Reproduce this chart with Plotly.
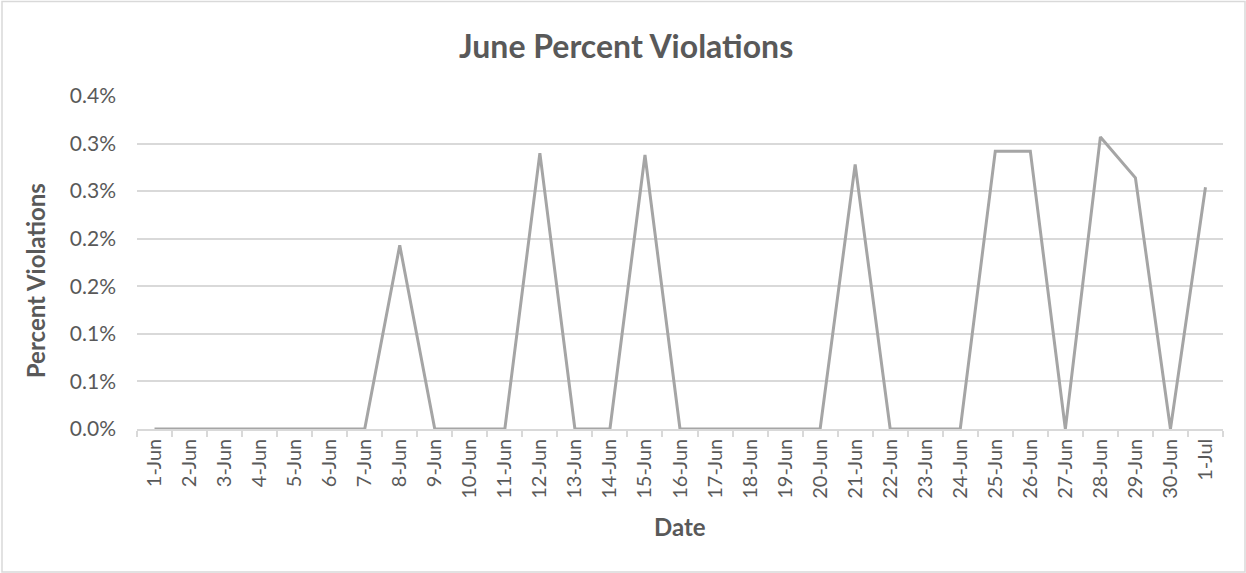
import plotly.graph_objects as go

dates = ["1-Jun", "2-Jun", "3-Jun", "4-Jun", "5-Jun", "6-Jun", "7-Jun", "8-Jun", "9-Jun",
         "10-Jun", "11-Jun", "12-Jun", "13-Jun", "14-Jun", "15-Jun", "16-Jun", "17-Jun",
         "18-Jun", "19-Jun", "20-Jun", "21-Jun", "22-Jun", "23-Jun", "24-Jun", "25-Jun",
         "26-Jun", "27-Jun", "28-Jun", "29-Jun", "30-Jun", "1-Jul"]
percent_violations = [0, 0, 0, 0, 0, 0, 0, 0.00193, 0, 0, 0, 0.00290, 0, 0, 0.00288, 0,
                      0, 0, 0, 0, 0.00278, 0, 0, 0, 0.00292, 0.00292, 0, 0.00307,
                      0.00264, 0, 0.00254]
y_ticks = [0, 0.0005, 0.001, 0.0015, 0.002, 0.0025, 0.003, 0.0035]
y_tick_labels = ["0.0%", "0.1%", "0.1%", "0.2%", "0.2%", "0.3%", "0.3%", "0.4%"]

TXT = "#595959"
GRID = "#d9d9d9"
FONT = "Lato"

fig = go.Figure()
fig.add_trace(go.Scatter(
    x=dates, y=percent_violations, mode="lines",
    line=dict(color="#a5a5a5", width=3), showlegend=False,
))

fig.update_layout(
    width=1246, height=573,
    margin=dict(l=137, r=23, t=96, b=144),
    paper_bgcolor="white", plot_bgcolor="white",
    font=dict(family=FONT, color=TXT),
    xaxis=dict(
        type="category", tickangle=-90, tickson="boundaries",
        ticks="outside", ticklen=6, tickcolor=GRID, tickwidth=1.5,
        showline=True, linecolor=GRID, linewidth=1.5,
        showgrid=False, tickfont=dict(size=20, color=TXT, family=FONT),
        range=[-0.5, len(dates) - 0.5],
    ),
    yaxis=dict(
        range=[0, 0.0035], tickvals=y_ticks, ticktext=y_tick_labels,
        showgrid=True, gridcolor=GRID, gridwidth=1.5,
        zeroline=False, showline=False, ticks="",
        ticklabelstandoff=20,
        tickfont=dict(size=21, color=TXT, family=FONT),
    ),
    annotations=[
        dict(text="<b>June Percent Violations</b>", xref="paper", yref="paper",
             x=0.450, y=1.153, showarrow=False, xanchor="center", yanchor="middle",
             font=dict(size=32, color=TXT, family=FONT)),
        dict(text="<b>Percent Violations</b>", xref="paper", yref="paper",
             x=-0.0939, y=0.444, showarrow=False, textangle=-90,
             xanchor="center", yanchor="middle",
             font=dict(size=24, color=TXT, family=FONT)),
        dict(text="<b>Date</b>", xref="paper", yref="paper",
             x=0.5, y=-0.294, showarrow=False, xanchor="center", yanchor="middle",
             font=dict(size=24, color=TXT, family=FONT)),
    ],
    shapes=[
        dict(type="rect", xref="paper", yref="paper",
             x0=-135/1086, x1=(1245 - 137)/1086, y0=(429 - 572)/333, y1=(429 - 1.5)/333,
             line=dict(color=GRID, width=1.5), fillcolor="rgba(0,0,0,0)", layer="below"),
    ],
)

fig.write_html("out.html", config={"displayModeBar": False},
               post_script="document.body.style.margin='0';")
